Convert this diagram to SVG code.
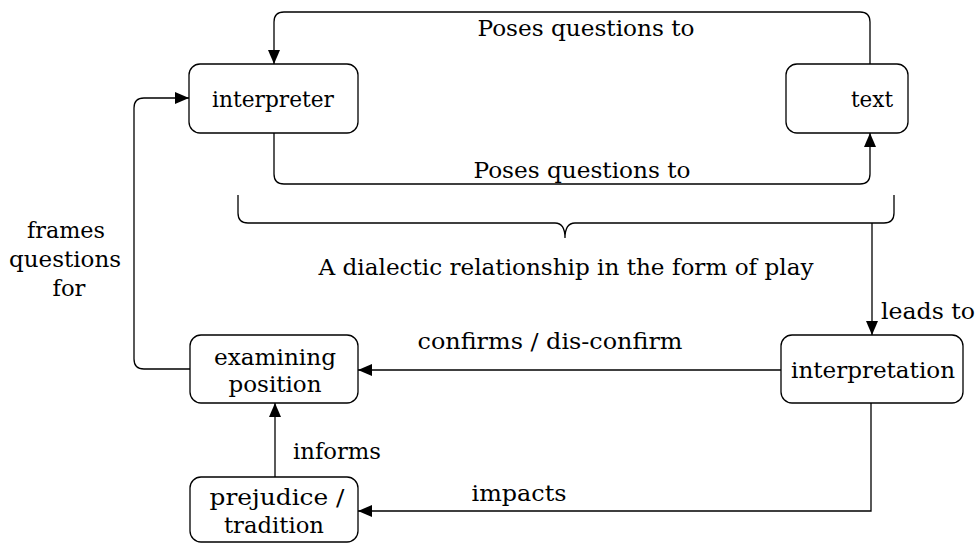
<svg xmlns="http://www.w3.org/2000/svg" width="977" height="544" viewBox="0 0 977 544">
  <defs>
    <marker id="arrow" viewBox="0 0 14 12" refX="14" refY="6" markerWidth="14" markerHeight="12" markerUnits="userSpaceOnUse" orient="auto">
      <path d="M0,0 L14,6 L0,12 Z" fill="#000"/>
    </marker>
  </defs>
  <style>
    .box { fill: #fff; stroke: #000; stroke-width: 1.3; }
    .edge { fill: none; stroke: #000; stroke-width: 1.3; }
    text { font-family: "DejaVu Serif", "Liberation Serif", serif; font-size: 22.5px; fill: #000; }
    .c { text-anchor: middle; }
  </style>
  <rect width="977" height="544" fill="#fff"/>

  <g id="connectors">
    <!-- text -> interpreter (over the top) -->
    <path class="edge" d="M870,64 V22 Q870,12 860,12 H284 Q274,12 274,22 V64" marker-end="url(#arrow)"/>
    <text class="c" x="586" y="36" textLength="217" lengthAdjust="spacingAndGlyphs">Poses questions to</text>
    <!-- interpreter -> text (underneath) -->
    <path class="edge" d="M274,133 V174 Q274,184 284,184 H860 Q870,184 870,174 V133" marker-end="url(#arrow)"/>
    <text class="c" x="582" y="178" textLength="217" lengthAdjust="spacingAndGlyphs">Poses questions to</text>
    <!-- brace -->
    <path class="edge" d="M238,195 V213 Q238,223 248,223 H555 Q565,223 565,238 Q565,223 575,223 H884 Q894,223 894,213 V195"/>
    <text class="c" x="566" y="275" textLength="495" lengthAdjust="spacingAndGlyphs">A dialectic relationship in the form of play</text>
    <!-- brace -> interpretation -->
    <path class="edge" d="M872,223 V335" marker-end="url(#arrow)"/>
    <text x="881" y="319" textLength="94" lengthAdjust="spacingAndGlyphs">leads to</text>
    <!-- interpretation -> examining position -->
    <path class="edge" d="M781,370 H358" marker-end="url(#arrow)"/>
    <text class="c" x="550" y="349" textLength="265" lengthAdjust="spacingAndGlyphs">confirms / dis-confirm</text>
    <!-- interpretation -> prejudice / tradition -->
    <path class="edge" d="M871,403 V511 H358" marker-end="url(#arrow)"/>
    <text class="c" x="519" y="501" textLength="95" lengthAdjust="spacingAndGlyphs">impacts</text>
    <!-- prejudice / tradition -> examining position -->
    <path class="edge" d="M275,477 V403" marker-end="url(#arrow)"/>
    <text x="293" y="459" textLength="88" lengthAdjust="spacingAndGlyphs">informs</text>
    <!-- examining position -> interpreter -->
    <path class="edge" d="M190,369 H144 Q134,369 134,359 V108 Q134,98 144,98 H189" marker-end="url(#arrow)"/>
    <text class="c" x="66" y="238" textLength="78" lengthAdjust="spacingAndGlyphs">frames</text>
    <text class="c" x="65" y="267" textLength="112" lengthAdjust="spacingAndGlyphs">questions</text>
    <text class="c" x="69" y="296" textLength="33" lengthAdjust="spacingAndGlyphs">for</text>
  </g>

  <g id="interpreter">
    <rect class="box" x="189" y="64" width="169" height="69" rx="11"/>
    <text class="c" x="273" y="107" textLength="122" lengthAdjust="spacingAndGlyphs">interpreter</text>
  </g>
  <g id="text">
    <rect class="box" x="786" y="64" width="122" height="69" rx="11"/>
    <text class="c" x="872" y="107" textLength="42" lengthAdjust="spacingAndGlyphs">text</text>
  </g>
  <g id="interpretation">
    <rect class="box" x="781" y="335" width="182" height="68" rx="11"/>
    <text class="c" x="873" y="378" textLength="164" lengthAdjust="spacingAndGlyphs">interpretation</text>
  </g>
  <g id="examining-position">
    <rect class="box" x="190" y="335" width="168" height="68" rx="11"/>
    <text class="c" x="275" y="365" textLength="122" lengthAdjust="spacingAndGlyphs">examining</text>
    <text class="c" x="275" y="392" textLength="93" lengthAdjust="spacingAndGlyphs">position</text>
  </g>
  <g id="prejudice-tradition">
    <rect class="box" x="190" y="477" width="168" height="65" rx="11"/>
    <text class="c" x="277" y="505" textLength="135" lengthAdjust="spacingAndGlyphs">prejudice /</text>
    <text class="c" x="274" y="533" textLength="100" lengthAdjust="spacingAndGlyphs">tradition</text>
  </g>
</svg>
